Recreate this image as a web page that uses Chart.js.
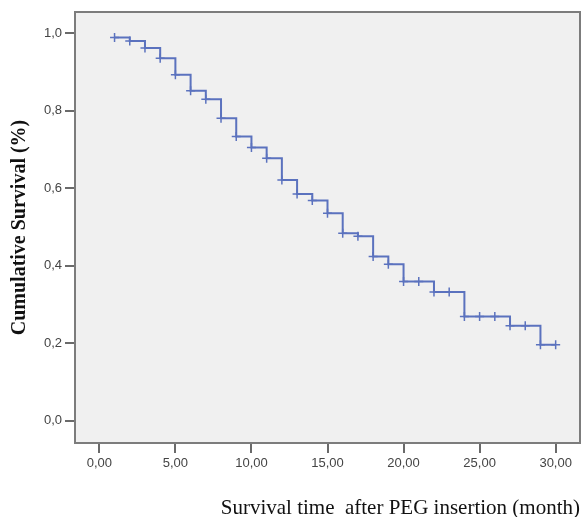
<!DOCTYPE html>
<html>
<head>
<meta charset="utf-8">
<script src="https://cdn.jsdelivr.net/npm/chart.js@4"></script>
<style>
  html, body { margin: 0; padding: 0; background: #fff; }
  #wrap { width: 582px; height: 517px; }
</style>
</head>
<body>
<div id="wrap"><canvas id="km"></canvas></div>
<script>
// Kaplan-Meier survival after PEG insertion.
const months = [1, 2, 3, 4, 5, 6, 7, 8, 9, 10, 11, 12, 13, 14, 15,
  16, 17, 18, 19, 20, 21, 22, 23, 24, 25, 26, 27, 28, 29, 30];
const survival = [0.988, 0.979, 0.961, 0.935, 0.892, 0.851, 0.829, 0.780, 0.733, 0.705,
  0.677, 0.621, 0.585, 0.568, 0.535, 0.484, 0.476, 0.424, 0.404, 0.359,
  0.359, 0.332, 0.332, 0.269, 0.269, 0.269, 0.245, 0.245, 0.196, 0.196];
const xTicks = [0, 5, 10, 15, 20, 25, 30];
const yTicks = [0, 0.2, 0.4, 0.6, 0.8, 1.0];

const LINE = '#5b72be';
const AXIS = '#6a6a6a';

// plot panel: grey fill behind the data, dark frame on top
const panel = {
  id: 'panel',
  beforeDatasetsDraw(chart) {
    const { ctx, chartArea: a } = chart;
    ctx.save();
    ctx.fillStyle = '#f0f0f0';
    ctx.fillRect(a.left, a.top, a.right - a.left, a.bottom - a.top);
    ctx.restore();
  },
  afterDraw(chart) {
    const { ctx, chartArea: a } = chart;
    ctx.save();
    ctx.strokeStyle = '#7c7c7c';
    ctx.lineWidth = 2;
    ctx.strokeRect(a.left, a.top, a.right - a.left, a.bottom - a.top);
    ctx.restore();
  },
};

const comma = (v, d) => v.toFixed(d).replace('.', ',');

new Chart(document.getElementById('km'), {
  type: 'line',
  data: {
    datasets: [{
      data: months.map((m, i) => ({ x: m, y: survival[i] })),
      stepped: 'before',
      borderColor: LINE,
      borderWidth: 2,
      pointStyle: 'cross',
      pointRadius: 4.5,
      pointBorderColor: LINE,
      pointBorderWidth: 1.5,
      pointHoverRadius: 4.5,
      fill: false,
    }],
  },
  options: {
    responsive: true,
    maintainAspectRatio: false,
    animation: false,
    layout: { autoPadding: false, padding: { top: 12, right: 2, left: 0, bottom: 0 } },
    plugins: { legend: { display: false }, tooltip: { enabled: false } },
    scales: {
      x: {
        type: 'linear',
        min: -1.6,
        max: 31.6,
        afterFit: (s) => { s.height = 74; s.paddingLeft = 0; s.paddingRight = 0; },
        afterBuildTicks: (s) => { s.ticks = xTicks.map((v) => ({ value: v })); },
        border: { display: false },
        grid: { drawOnChartArea: false, drawTicks: true, tickLength: 10, color: AXIS, lineWidth: 2 },
        ticks: {
          padding: 3,
          color: '#444',
          font: { family: 'Liberation Sans', size: 13 },
          maxRotation: 0,
          callback: (v) => comma(v, 2),
        },
        title: {
          display: true,
          text: 'Survival time  after PEG insertion (month)',
          align: 'end',
          color: '#111',
          font: { family: 'Liberation Serif', size: 21, lineHeight: 0.8 },
          padding: { top: 0, bottom: 0 },
        },
      },
      y: {
        min: -0.057,
        max: 1.054,
        afterFit: (s) => { s.width = 75; s.paddingTop = 0; s.paddingBottom = 0; },
        afterBuildTicks: (s) => { s.ticks = yTicks.map((v) => ({ value: v })); },
        border: { display: false },
        grid: { drawOnChartArea: false, drawTicks: true, tickLength: 10, color: AXIS, lineWidth: 2 },
        ticks: {
          padding: 3,
          color: '#444',
          font: { family: 'Liberation Sans', size: 13 },
          callback: (v) => comma(v, 1),
        },
        title: {
          display: true,
          text: 'Cumulative Survival (%)',
          color: '#111',
          font: { family: 'Liberation Serif', size: 20, weight: 'bold', lineHeight: 1 },
          padding: { top: 10, bottom: 10 },
        },
      },
    },
  },
  plugins: [panel],
});
</script>
</body>
</html>
